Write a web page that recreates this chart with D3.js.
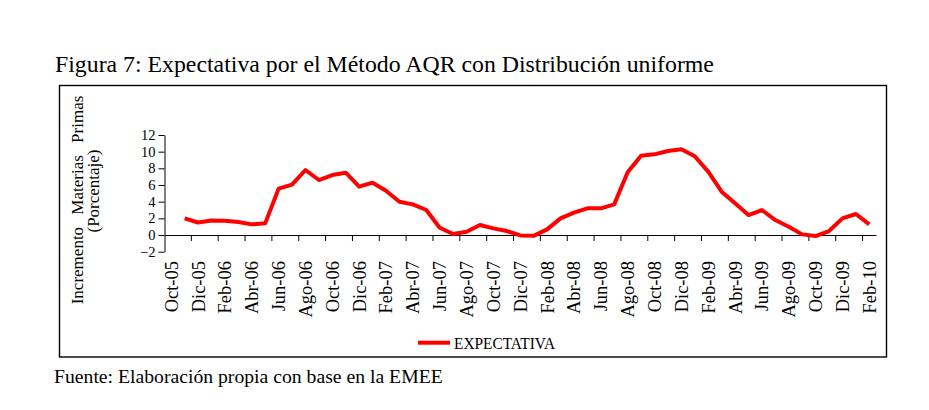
<!DOCTYPE html>
<html>
<head>
<meta charset="utf-8">
<script src="https://cdn.jsdelivr.net/npm/d3@7"></script>
<style>
  body { margin: 0; background: #fff; }
  text { font-family: "Liberation Serif", "Times New Roman", serif; fill: #000; }
</style>
</head>
<body>
<div id="wrap"></div>
<script>
// data
var months = ["Oct-05","Nov-05","Dic-05","Ene-06","Feb-06","Mar-06","Abr-06","May-06","Jun-06","Jul-06","Ago-06","Sep-06",
  "Oct-06","Nov-06","Dic-06","Ene-07","Feb-07","Mar-07","Abr-07","May-07","Jun-07","Jul-07","Ago-07","Sep-07",
  "Oct-07","Nov-07","Dic-07","Ene-08","Feb-08","Mar-08","Abr-08","May-08","Jun-08","Jul-08","Ago-08","Sep-08",
  "Oct-08","Nov-08","Dic-08","Ene-09","Feb-09","Mar-09","Abr-09","May-09","Jun-09","Jul-09","Ago-09","Sep-09",
  "Oct-09","Nov-09","Dic-09","Ene-10","Feb-10"];
var expectativa = [null,2.0,1.5,1.75,1.72,1.56,1.28,1.4,5.56,6.04,7.8,6.6,
  7.2,7.48,5.8,6.28,5.32,4.0,3.68,3.0,0.88,0.12,0.4,1.2,
  0.8,0.48,-0.05,-0.1,0.68,2.0,2.68,3.2,3.2,3.68,7.52,9.52,
  9.68,10.08,10.28,9.45,7.6,5.2,3.8,2.4,3.0,1.8,1.0,0.08,
  -0.12,0.48,2.0,2.52,1.28];
var labelMonths = months.filter(function(d,i){ return i % 2 === 0; });
var yTicks = [-2,0,2,4,6,8,10,12];

var W = 929, H = 410;
var svg = d3.select('#wrap').append('svg')
      .attr('width',W)
      .attr('height',H);

//frame
svg.append('rect')
  .attr('x',59.5).attr('y',85.5)
  .attr('width',827).attr('height',271.5)
  .style('fill','none')
  .style('stroke','#000')
  .style('stroke-width','1.4px');

//titles
svg.append('text')
  .attr('x',55).attr('y',72)
  .style('font-size','23.8px')
  .text('Figura 7: Expectativa por el Método AQR con Distribución uniforme');

svg.append('text')
  .attr('x',54).attr('y',383)
  .style('font-size','19.7px')
  .text('Fuente: Elaboración propia con base en la EMEE');

svg.append('text')
  .attr('transform','translate(83,200) rotate(-90)')
  .attr('text-anchor','middle')
  .style('font-size','17px')
  .style('word-spacing','8px')
  .text('Incremento Materias Primas');

svg.append('text')
  .attr('transform','translate(99,191) rotate(-90)')
  .attr('text-anchor','middle')
  .style('font-size','17px')
  .text('(Porcentaje)');

//scales
var x = d3.scaleBand().domain(months).range([164.5,876]).padding(0),
    y = d3.scaleLinear().domain([-2,12]).range([251.7,135]);
var bw = x.bandwidth();

//y axis
var yAxis = svg.append('g')
  .attr('transform','translate(164.5,0)')
  .call(d3.axisLeft(y).tickValues(yTicks).tickSize(6).tickSizeOuter(0).tickPadding(3));
yAxis.selectAll('text')
  .style('font-family','"Liberation Serif", serif')
  .style('font-size','14.5px')
  .attr('fill','#000');
yAxis.selectAll('line,path').attr('stroke','#000');

//x axis at zero
var xAxis = svg.append('g')
  .attr('transform','translate(0,'+y(0)+')')
  .call(d3.axisBottom(x).tickValues(labelMonths).tickSize(0).tickSizeOuter(0).tickPadding(0));
xAxis.select('.domain').attr('stroke','#000');
xAxis.selectAll('.tick text')
  .style('font-family','"Liberation Serif", serif')
  .style('font-size','18.5px')
  .attr('fill','#000')
  .attr('text-anchor','end')
  .attr('transform','rotate(-90)')
  .attr('x',-(261-y(0)))
  .attr('y',0)
  .attr('dy','0.35em');

//tick marks on category boundaries
svg.append('g').selectAll('line')
  .data(labelMonths.slice(1))
  .enter().append('line')
    .attr('x1',function(d){ return x(d); })
    .attr('x2',function(d){ return x(d); })
    .attr('y1',y(0))
    .attr('y2',y(0)+6)
    .style('stroke','#000');

//line
var line = d3.line()
  .defined(function(d){ return d.v !== null; })
  .x(function(d){ return x(d.m) + bw/2; })
  .y(function(d){ return y(d.v); });

svg.append('path')
  .datum(months.map(function(m,i){ return {m:m, v:expectativa[i]}; }))
  .attr('d',line)
  .style('fill','none')
  .style('stroke','#ff0000')
  .style('stroke-width','4px')
  .style('stroke-linejoin','round');

//legend
svg.append('line')
  .attr('x1',418).attr('x2',450)
  .attr('y1',342.7).attr('y2',342.7)
  .style('stroke','#ff0000')
  .style('stroke-width','4px');
svg.append('text')
  .attr('x',454).attr('y',349.3)
  .attr('textLength',101)
  .attr('lengthAdjust','spacingAndGlyphs')
  .style('font-size','17px')
  .text('EXPECTATIVA');
</script>
</body>
</html>
